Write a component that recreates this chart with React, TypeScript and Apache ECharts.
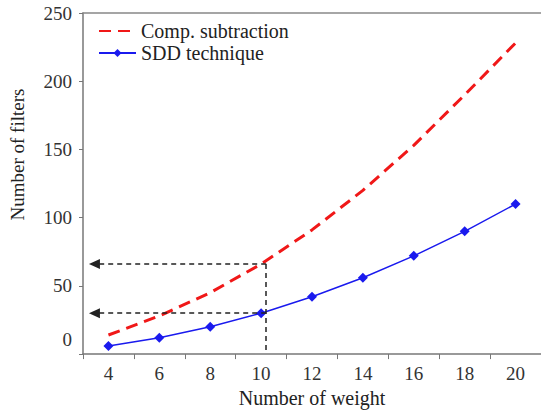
import React, { useEffect, useRef } from "react";
import * as echarts from "echarts";

const weights = [4, 6, 8, 10, 12, 14, 16, 18, 20];
const compSubtraction = [14, 28, 45, 66, 91, 120, 153, 190, 228];
const sddTechnique = [6, 12, 20, 30, 42, 56, 72, 90, 110];
const yTicks = [0, 50, 100, 150, 200, 250];
const markY = [66, 30];
const markX = 10.2;

const FONT = "Liberation Serif";

export default function App() {
  const ref = useRef<HTMLDivElement>(null);
  useEffect(() => {
    document.body.style.margin = "0";
    const chart = echarts.init(ref.current!, null, { renderer: "svg" });
    const toPairs = (vals: number[]) => weights.map((w, i) => [w, vals[i]]);
    const arrowLines: any[] = markY.map((y) => [
      { coord: [markX, y], symbol: "none" },
      { coord: [3.45, y], symbol: "triangle" },
    ]);
    arrowLines.push([
      { coord: [markX, markY[0]], symbol: "none" },
      { coord: [markX, 0], symbol: "none" },
    ]);
    chart.setOption({
      animation: false,
      textStyle: { fontFamily: FONT },
      grid: { left: 80, right: 0, top: 13, bottom: 56, containLabel: false },
      legend: {
        orient: "vertical",
        left: 93,
        top: 16,
        itemGap: 2,
        itemWidth: 37,
        itemHeight: 10,
        textStyle: { fontFamily: FONT, fontSize: 20, color: "#222" },
        data: [
          { name: "Comp. subtraction", itemStyle: { opacity: 0 } },
          { name: "SDD technique" },
        ],
      },
      xAxis: [
        {
          type: "category",
          data: weights.map(String),
          boundaryGap: true,
          name: "Number of weight",
          nameLocation: "middle",
          nameGap: 32,
          nameTextStyle: { fontFamily: FONT, fontSize: 20, color: "#222" },
          axisLine: { lineStyle: { color: "#777", width: 1.5 } },
          axisTick: { show: true, length: 5, lineStyle: { color: "#777" } },
          axisLabel: { fontFamily: FONT, fontSize: 19, color: "#333", margin: 10 },
          splitLine: { show: false },
        },
        {
          type: "value",
          min: 3,
          max: 21,
          position: "top",
          axisLine: { show: true, onZero: false, lineStyle: { color: "#888", width: 1.5 } },
          axisTick: { show: false },
          axisLabel: { show: false },
          splitLine: { show: false },
        },
      ],
      yAxis: {
        type: "value",
        min: yTicks[0],
        max: yTicks[yTicks.length - 1],
        interval: 50,
        name: "Number of filters",
        nameLocation: "middle",
        nameGap: 56,
        nameTextStyle: { fontFamily: FONT, fontSize: 19, color: "#222", padding: [0, 0, 0, 58] },
        axisLine: { show: true, lineStyle: { color: "#777", width: 1.5 } },
        axisTick: { show: true, length: 4, lineStyle: { color: "#777" } },
        axisLabel: {
          fontFamily: FONT,
          fontSize: 19,
          color: "#333",
          margin: 11,
          formatter: (v: number) => (v === 0 ? "{z|0}" : String(v)),
          rich: { z: { fontFamily: FONT, fontSize: 19, color: "#333", padding: [0, 0, 30, 0] } },
        },
        splitLine: { show: false },
      },
      series: [
        {
          name: "Comp. subtraction",
          type: "line",
          xAxisIndex: 1,
          data: toPairs(compSubtraction),
          showSymbol: false,
          symbol: "none",
          lineStyle: { color: "#f01818", width: 3, type: [12, 7] },
          itemStyle: { color: "#f01818" },
          smooth: false,
        },
        {
          name: "SDD technique",
          type: "line",
          xAxisIndex: 1,
          data: toPairs(sddTechnique),
          symbol: "diamond",
          symbolSize: 10,
          lineStyle: { color: "#1a1aee", width: 1.5 },
          itemStyle: { color: "#1a1aee" },
          markLine: {
            silent: true,
            symbolSize: [10, 11],
            label: { show: false },
            lineStyle: { color: "#222", width: 1.5, type: [5, 4] },
            itemStyle: { color: "#111" },
            data: arrowLines,
          },
        },
      ],
    });
    return () => chart.dispose();
  }, []);
  return <div ref={ref} style={{ width: 541, height: 413 }} />;
}
